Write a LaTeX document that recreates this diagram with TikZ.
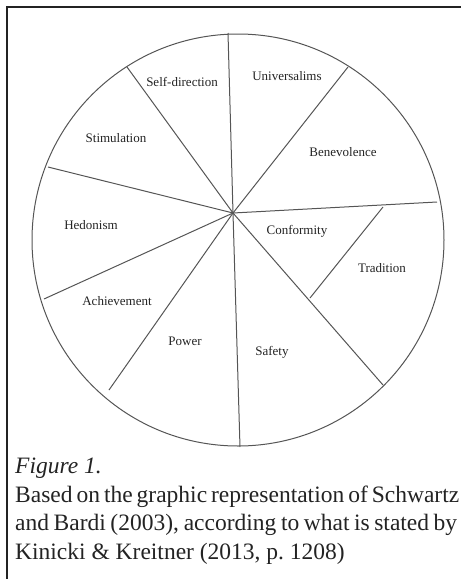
\documentclass[tikz,border=0pt]{standalone}
\usepackage{fontspec}
\setmainfont{Liberation Serif}
\usetikzlibrary{calc}
\definecolor{rimgray}{RGB}{85,85,85}
\definecolor{inkgray}{RGB}{35,35,35}

\begin{document}
\begin{tikzpicture}
  [x=1pt, y=-1pt,
   spoke/.style={draw=rimgray, line width=1pt},
   value/.style={font=\fontsize{13}{15}\selectfont, text=inkgray, inner sep=0pt}]
  \useasboundingbox (0,0) rectangle (461,579);
  % frame
  \draw[line width=1.1pt, inkgray] (7,579) -- (7,7) -- (461,7);

  % wheel
  \coordinate (ctr) at (238,240);
  \coordinate (hub) at (233,213);
  \draw[spoke] (ctr) circle[radius=206pt];
  \coordinate (e1) at (228,33);
  \coordinate (e2) at (127,67);
  \coordinate (e3) at (48,167);
  \coordinate (e4) at (44,299);
  \coordinate (e5) at (109,390);
  \coordinate (e6) at (240,447);
  \coordinate (e7) at (383,385);
  \coordinate (e8) at (437,202);
  \coordinate (e9) at (348,67);
  \foreach \e in {e1,e2,e3,e4,e5,e6,e7,e8,e9}
    \draw[spoke] (hub) -- (\e);
  \coordinate (t1) at (383,207);
  \coordinate (t2) at (310,298);
  \draw[spoke] (t1) -- (t2);

  % values
  \node[value] (selfdir) at (182,82) {Self-direction};
  \node[value] (univ) at (287,76) {Universalims};
  \node[value] (stim) at (116,138) {Stimulation};
  \node[value] (bene) at (343,152) {Benevolence};
  \node[value] (hedo) at (91,225) {Hedonism};
  \node[value] (conf) at (297,231) {Conformity};
  \node[value] (trad) at (382,268) {Tradition};
  \node[value] (achi) at (117,301) {Achievement};
  \node[value] (power) at (185,341) {Power};
  \node[value] (safety) at (272,352) {Safety};

  % caption
  \node[anchor=north west, align=left, inner sep=0pt, text=inkgray,
        font=\fontsize{23.5}{28.5}\selectfont] (caption) at (15,458)
    {\spaceskip=0.25em plus 0.3em minus 0.15em
     \textit{Figure 1.}\\
     \makebox[444pt][s]{Based on the graphic representation of Schwartz}\\
     \makebox[442pt][s]{and Bardi (2003), according to what is stated by}\\
     Kinicki \& Kreitner (2013, p.\ 1208)};
\end{tikzpicture}
\end{document}
